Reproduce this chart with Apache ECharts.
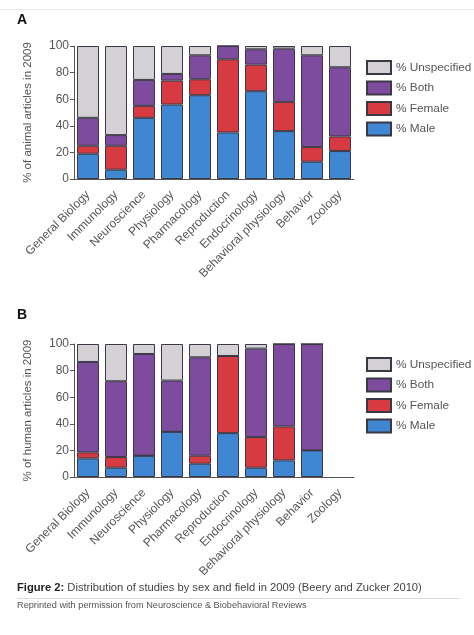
<!DOCTYPE html>
<html><head><meta charset="utf-8">
<script src="https://cdn.jsdelivr.net/npm/echarts@6/dist/echarts.min.js"></script>
<style>html,body{margin:0;padding:0;background:#fff}#c{width:474px;height:635px}</style>
</head><body><div id="c"></div>
<script>
const categories = ['General Biology','Immunology','Neuroscience','Physiology','Pharmacology','Reproduction','Endocrinology','Behavioral physiology','Behavior','Zoology'];
const yTicks = [0,20,40,60,80,100];
// Panel A: animal articles
const animalMale        = [19, 7, 46, 56, 63, 35, 66, 36, 13, 21];
const animalFemale      = [6, 18, 9, 18, 12, 55, 20, 22, 11, 11];
const animalBoth        = [21, 8, 19.5, 5, 18, 10, 11.5, 40, 69, 52];
const animalUnspecified = [54, 67, 25.5, 21, 7, 0, 2.5, 2, 7, 16];
// Panel B: human articles
const humanMale        = [14, 7, 16, 34, 10, 33, 7, 12.5, 20, null];
const humanFemale      = [4.5, 8, 0, 0, 6, 58, 23, 25.5, 0, null];
const humanBoth        = [68, 57, 76.5, 38.5, 74, 0, 66.5, 62, 80, null];
const humanUnspecified = [13.5, 28, 7.5, 27.5, 10, 9, 3.5, 0, 0, null];

const names = ['% Unspecified','% Both','% Female','% Male'];
const colors = {'% Male':'#3f86d3','% Female':'#d83a42','% Both':'#7d4c9f','% Unspecified':'#d3d1d4'};
const FONT = 'Liberation Sans';

function mkSeries(name, data, idx){
  return {name, type:'bar', stack:'s'+idx, xAxisIndex:idx, yAxisIndex:idx, data, barWidth:22,
    itemStyle:{color:colors[name], borderColor:'#3b3745', borderWidth:1}, emphasis:{disabled:true}};
}
function mkX(idx){
  return {type:'category', gridIndex:idx, data:categories,
    axisLine:{lineStyle:{color:'#555',width:1}},
    axisTick:{alignWithLabel:true,length:4,lineStyle:{color:'#555'}},
    axisLabel:{rotate:45, margin:14, fontSize:12, color:'#555', fontFamily:FONT, interval:0}};
}
function mkY(idx, title){
  return {type:'value', gridIndex:idx, min:yTicks[0], max:yTicks[yTicks.length-1], interval:20,
    name:title, nameLocation:'middle', nameGap:40,
    nameTextStyle:{fontSize:11.5, color:'#555', fontFamily:FONT},
    axisLine:{show:true, lineStyle:{color:'#555',width:1}},
    axisTick:{show:true,length:4,lineStyle:{color:'#555'}},
    splitLine:{show:false},
    axisLabel:{fontSize:12, color:'#555', fontFamily:FONT, margin:5}};
}
function mkLegend(top){
  return {data:names, orient:'vertical', left:361, top, icon:'rect', itemWidth:24, itemHeight:13, itemGap:5.5,
    selectedMode:false, textStyle:{fontSize:11.8, color:'#555', fontFamily:FONT}};
}

const chart = echarts.init(document.getElementById('c'), null, {renderer:'canvas'});
chart.setOption({
  animation:false,
  backgroundColor:'#fff',
  grid:[{left:74, top:46, width:280, height:133},{left:74, top:344, width:280, height:133}],
  xAxis:[mkX(0), mkX(1)],
  yAxis:[mkY(0,'% of animal articles in 2009'), mkY(1,'% of human articles in 2009')],
  legend:[mkLegend(55), mkLegend(352)],
  series:[
    mkSeries('% Male', animalMale, 0), mkSeries('% Female', animalFemale, 0),
    mkSeries('% Both', animalBoth, 0), mkSeries('% Unspecified', animalUnspecified, 0),
    mkSeries('% Male', humanMale, 1), mkSeries('% Female', humanFemale, 1),
    mkSeries('% Both', humanBoth, 1), mkSeries('% Unspecified', humanUnspecified, 1)
  ],
  graphic:[
    {type:'line', shape:{x1:0,y1:9.5,x2:474,y2:9.5}, style:{stroke:'#e6e6e6',lineWidth:1}},
    {type:'text', left:17, top:13, style:{text:'A', font:'bold 14px '+FONT, fill:'#111'}},
    {type:'text', left:17, top:308, style:{text:'B', font:'bold 14px '+FONT, fill:'#111'}},
    {type:'text', left:17, top:582, style:{text:'{b|Figure 2:} Distribution of studies by sex and field in 2009 (Beery and Zucker 2010)',
      font:'11.2px '+FONT, fill:'#444', rich:{b:{fontWeight:'bold', fontSize:11.2, fontFamily:FONT, fill:'#222'}}}},
    {type:'line', shape:{x1:17,y1:598.5,x2:460,y2:598.5}, style:{stroke:'#dcdcdc',lineWidth:1}},
    {type:'text', left:17, top:601, style:{text:'Reprinted with permission from Neuroscience & Biobehavioral Reviews', font:'9.2px '+FONT, fill:'#555'}}
  ]
});
</script></body></html>
